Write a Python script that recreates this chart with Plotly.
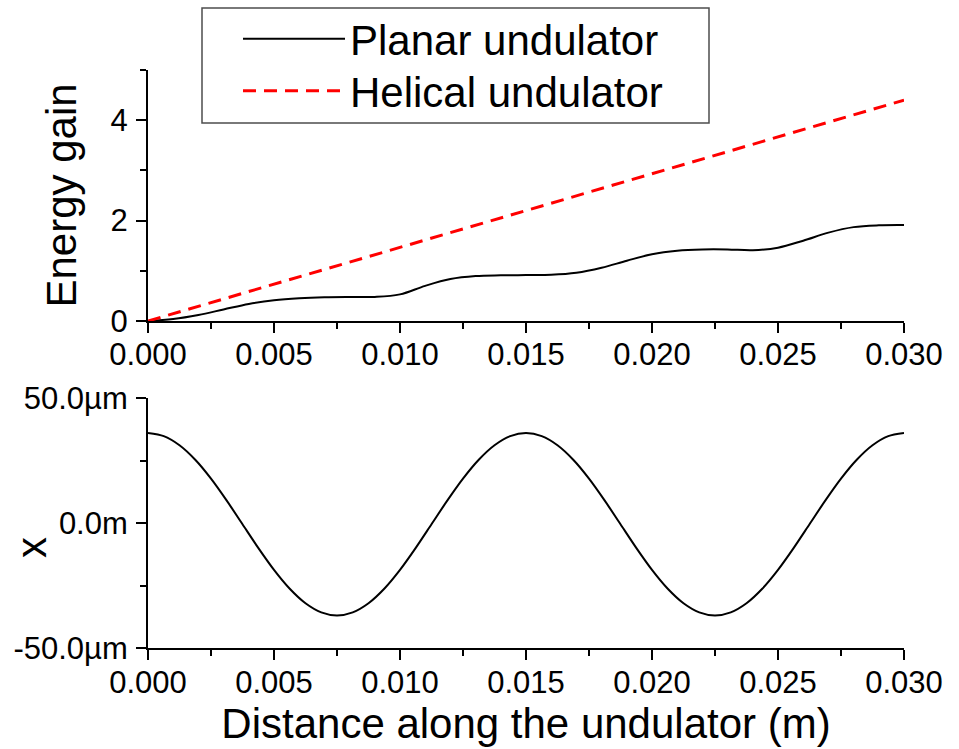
import plotly.graph_objects as go

# ---- data -----------------------------------------------------------------
# Energy gain along a planar undulator (arb. units) vs. distance z (m)
z_gain = [0.000, 0.001, 0.002, 0.003, 0.004, 0.005, 0.006, 0.007, 0.008, 0.009,
          0.010, 0.011, 0.012, 0.013, 0.014, 0.015, 0.016, 0.017, 0.018, 0.019,
          0.020, 0.021, 0.022, 0.023, 0.024, 0.025, 0.026, 0.027, 0.028, 0.029,
          0.030]
planar_gain = [0.00, 0.04, 0.12, 0.23, 0.34, 0.415, 0.455, 0.475, 0.48, 0.48,
               0.53, 0.70, 0.835, 0.895, 0.91, 0.915, 0.92, 0.96, 1.06, 1.20,
               1.33, 1.40, 1.425, 1.425, 1.41, 1.46, 1.60, 1.76, 1.87, 1.905,
               1.91]

# Helical undulator: steady linear gain
z_helical = [0.000, 0.030]
helical_gain = [0.00, 4.40]

# Transverse electron orbit x (micrometres) in the planar undulator
z_orbit = [0.000000, 0.000625, 0.001250, 0.001875, 0.002500, 0.003125, 0.003750,
           0.004375, 0.005000, 0.005625, 0.006250, 0.006875, 0.007500, 0.008125,
           0.008750, 0.009375, 0.010000, 0.010625, 0.011250, 0.011875, 0.012500,
           0.013125, 0.013750, 0.014375, 0.015000, 0.015625, 0.016250, 0.016875,
           0.017500, 0.018125, 0.018750, 0.019375, 0.020000, 0.020625, 0.021250,
           0.021875, 0.022500, 0.023125, 0.023750, 0.024375, 0.025000, 0.025625,
           0.026250, 0.026875, 0.027500, 0.028125, 0.028750, 0.029375, 0.030000]
x_orbit_um = [36.0, 34.75, 31.1, 25.3, 17.75, 8.95, -0.5, -9.95, -18.75, -26.3,
              -32.1, -35.75, -37.0, -35.75, -32.1, -26.3, -18.75, -9.95, -0.5,
              8.95, 17.75, 25.3, 31.1, 34.75, 36.0, 34.75, 31.1, 25.3, 17.75,
              8.95, -0.5, -9.95, -18.75, -26.3, -32.1, -35.75, -37.0, -35.75,
              -32.1, -26.3, -18.75, -9.95, -0.5, 8.95, 17.75, 25.3, 31.1, 34.75,
              36.0]

x_tick_vals = [0.000, 0.005, 0.010, 0.015, 0.020, 0.025, 0.030]
x_tick_text = ["0.000", "0.005", "0.010", "0.015", "0.020", "0.025", "0.030"]
orbit_tick_vals = [-50, 0, 50]
orbit_tick_text = ["-50.0µm", "0.0m", "50.0µm"]

# ---- styling ----------------------------------------------------------------
FONT = "Liberation Sans, Arial, sans-serif"
BIG = 42
W, H = 959, 749
ML, MR, MT, MB = 148, 55, 70, 101
PW, PH = W - ML - MR, H - MT - MB


def px_x(p):
    return (p - ML) / PW


def px_y(p):
    return 1 - (p - MT) / PH


fig = go.Figure()
fig.add_trace(go.Scatter(
    x=z_gain, y=planar_gain, mode="lines", name="Planar undulator",
    line=dict(color="black", width=2, shape="spline", smoothing=1.0),
    xaxis="x", yaxis="y", legend="legend"))
fig.add_trace(go.Scatter(
    x=z_helical, y=helical_gain, mode="lines", name="Helical undulator",
    line=dict(color="#ff0000", width=3, dash="13px,8px"),
    xaxis="x", yaxis="y", legend="legend2"))
fig.add_trace(go.Scatter(
    x=z_orbit, y=x_orbit_um, mode="lines", showlegend=False,
    line=dict(color="black", width=2, shape="spline", smoothing=0.8),
    xaxis="x2", yaxis="y2"))

axis_common = dict(
    showline=True, linecolor="black", linewidth=2, mirror=False,
    ticks="outside", ticklen=10, tickwidth=2, tickcolor="black",
    showgrid=False, zeroline=False, automargin=False,
    tickfont=dict(family=FONT, size=31, color="black"),
)
minor_common = dict(ticks="outside", ticklen=6, tickwidth=2, tickcolor="black",
                    showgrid=False)

top_dom = [px_y(321), 1.0]
bot_dom = [0.0, px_y(398)]

legend_common = dict(xanchor="left", yanchor="middle",
                     bgcolor="rgba(0,0,0,0)", borderwidth=0, itemwidth=102,
                     font=dict(family=FONT, size=BIG, color="black"))

fig.update_layout(
    template="none",
    width=W, height=H,
    margin=dict(l=ML, r=MR, t=MT, b=MB, pad=0, autoexpand=False),
    paper_bgcolor="white", plot_bgcolor="white",
    font=dict(family=FONT, color="black"),
    xaxis=dict(axis_common, domain=[0, 1], anchor="y", range=[0, 0.030],
               tickvals=x_tick_vals, ticktext=x_tick_text, ticklabelstandoff=-5,
               minor=dict(minor_common, dtick=0.0025, tick0=0)),
    yaxis=dict(axis_common, domain=top_dom, anchor="x", range=[0, 5],
               tickvals=[0, 2, 4], ticktext=["0", "2", "4"], ticklabelstandoff=2,
               minor=dict(minor_common, tickvals=[1, 3, 5]),
               title=dict(text="Energy gain", standoff=21,
                          font=dict(family=FONT, size=BIG, color="black"))),
    xaxis2=dict(axis_common, domain=[0, 1], anchor="y2", range=[0, 0.030],
                tickvals=x_tick_vals, ticktext=x_tick_text, ticklabelstandoff=-4,
                minor=dict(minor_common, dtick=0.0025, tick0=0),
                title=dict(text="Distance along the undulator (m)", standoff=4,
                           font=dict(family=FONT, size=BIG, color="black"))),
    yaxis2=dict(axis_common, domain=bot_dom, anchor="x2", range=[-50, 50],
                tickvals=orbit_tick_vals, ticktext=orbit_tick_text,
                ticklabelstandoff=2,
                minor=dict(minor_common, tickvals=[-25, 25])),
    legend=dict(legend_common, x=px_x(238), y=px_y(39)),
    legend2=dict(legend_common, x=px_x(238), y=px_y(91)),
    shapes=[dict(type="rect", xref="paper", yref="paper",
                 x0=px_x(202), x1=px_x(709), y0=px_y(123), y1=px_y(8),
                 line=dict(color="#4d4d4d", width=1.5), fillcolor="rgba(0,0,0,0)")],
    annotations=[dict(text="x", xref="paper", yref="paper",
                      x=px_x(31), y=px_y(548), xanchor="center", yanchor="middle",
                      textangle=-90, showarrow=False,
                      font=dict(family=FONT, size=BIG, color="black"))],
)

fig.write_html("out.html")
